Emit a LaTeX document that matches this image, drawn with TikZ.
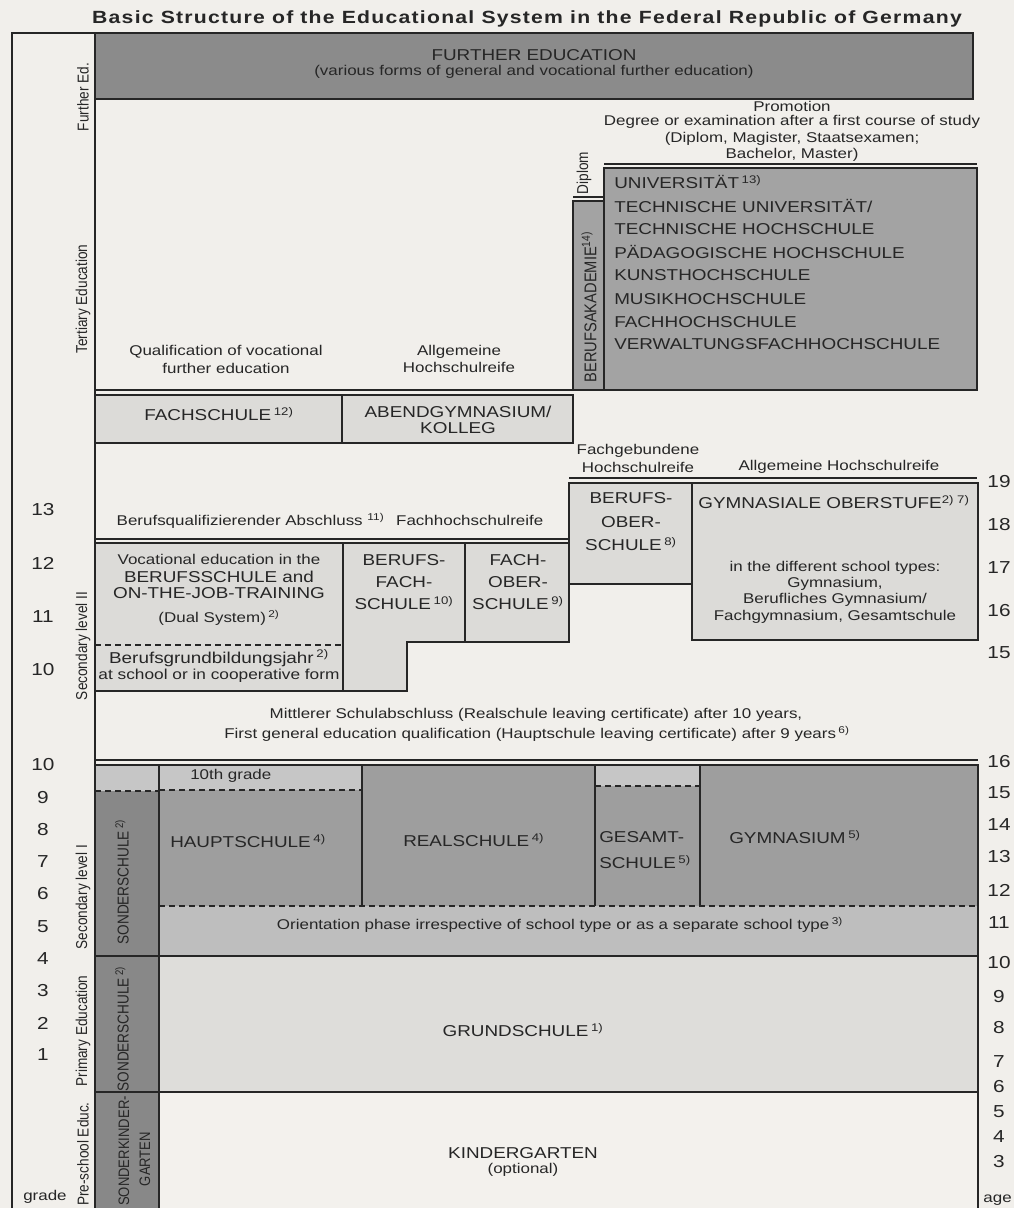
\documentclass[tikz,border=0pt]{standalone}
\usepackage{fontspec}
\usepackage{graphicx}
\setmainfont[FakeStretch=1.2]{Liberation Sans}
\newfontfamily\rotfont{Liberation Sans}
\newfontfamily\titlefont[FakeStretch=1.2,LetterSpace=7]{Liberation Sans}
\newcommand{\rtx}[1]{\scalebox{1}[1.16]{#1}}
\definecolor{bgc}{HTML}{F1EFEB}
\definecolor{inkc}{HTML}{262626}
\definecolor{furc}{HTML}{8B8B8B}
\definecolor{univc}{HTML}{A3A3A3}
\definecolor{lightc}{HTML}{DCDBD8}
\definecolor{schoolc}{HTML}{9E9E9E}
\definecolor{sonderc}{HTML}{888888}
\definecolor{bandc}{HTML}{C6C6C6}
\definecolor{orientc}{HTML}{BEBEBE}
\definecolor{grundc}{HTML}{DEDDDA}
\definecolor{kindc}{HTML}{F3F1ED}
\tikzset{
  ln/.style={line width=1.2pt, draw=inkc},
  thinln/.style={line width=1pt, draw=inkc},
  dsh/.style={line width=1.1pt, draw=inkc, dash pattern=on 4.5pt off 3pt},
  tx/.style={inner sep=0pt, text=inkc},
  big/.style={tx, font=\fontsize{11.8}{14}\selectfont},
  sml/.style={tx, font=\fontsize{10.6}{12.5}\selectfont},
  num/.style={tx, font=\fontsize{13}{15}\selectfont},
  rot/.style={tx, rotate=90, font=\rotfont\fontsize{10.2}{15}\selectfont},
}
\begin{document}
\begin{tikzpicture}[x=0.75pt,y=-0.75pt]
\useasboundingbox (0,0) rectangle (1014,1208);
\fill[bgc] (0,0) rectangle (1014,1208);

% ---------- title ----------
\node[tx, font=\titlefont\bfseries\fontsize{13.25}{15}\selectfont] (title) at (527,18.5)
  {Basic Structure of the Educational System in the Federal Republic of Germany};

% ---------- frame ----------
\draw[ln] (12,1215) -- (12,33) -- (95,33);
\draw[ln] (95,33) -- (95,1215);

% ---------- further education ----------
\filldraw[ln, fill=furc] (95,33) rectangle (973,99);
\node[big] (fe1) at (534,55) {FURTHER EDUCATION};
\node[sml] (fe2) at (534,72) {(various forms of general and vocational further education)};

% ---------- tertiary ----------
\node[sml] (pr1) at (792,106) {Promotion};
\node[sml] (pr2) at (792,122) {Degree or examination after a first course of study};
\node[sml] (pr3) at (792,139) {(Diplom, Magister, Staatsexamen;};
\node[sml] (pr4) at (792,155) {Bachelor, Master)};

\draw[thinln] (604,164) -- (977,164);
\filldraw[ln, fill=univc] (604,168) rectangle (977,390);
\draw[thinln] (573,197) -- (604,197);
\filldraw[ln, fill=univc] (573,201) rectangle (604,390);

\node[big, anchor=west] (u1) at (614,182) {UNIVERSITÄT\,\textsuperscript{13)}};
\node[big, anchor=west] (u2) at (614,206) {TECHNISCHE UNIVERSITÄT/};
\node[big, anchor=west] (u3) at (614,229) {TECHNISCHE HOCHSCHULE};
\node[big, anchor=west] (u4) at (614,252) {PÄDAGOGISCHE HOCHSCHULE};
\node[big, anchor=west] (u5) at (614,275) {KUNSTHOCHSCHULE};
\node[big, anchor=west] (u6) at (614,299) {MUSIKHOCHSCHULE};
\node[big, anchor=west] (u7) at (614,322) {FACHHOCHSCHULE};
\node[big, anchor=west] (u8) at (614,344) {VERWALTUNGSFACHHOCHSCHULE};

\node[rot] (dipl) at (584,173) {\rtx{Diplom}};
\node[rot, font=\rotfont\fontsize{11}{13}\selectfont] (ba) at (589,307) {\rtx{BERUFSAKADEMIE\textsuperscript{14)}}};

\node[sml] (q1) at (226,352) {Qualification of vocational};
\node[sml] (q2) at (226,368) {further education};
\node[sml] (ah1) at (459,352) {Allgemeine};
\node[sml] (ah2) at (459,367) {Hochschulreife};

\draw[thinln] (95,390) -- (977,390);
\filldraw[ln, fill=lightc] (95,395) rectangle (342,443);
\filldraw[ln, fill=lightc] (342,395) rectangle (573,443);
\node[big] (fs) at (219,414) {FACHSCHULE\,\textsuperscript{12)}};
\node[big] (ag1) at (458,412) {ABENDGYMNASIUM/};
\node[big] (ag2) at (458,428) {KOLLEG};

% ---------- secondary level II ----------
\node[sml] (fg1) at (638,451) {Fachgebundene};
\node[sml] (fg2) at (638,467) {Hochschulreife};
\node[sml] (ahr) at (839,467) {Allgemeine Hochschulreife};

\draw[thinln] (569,478) -- (977,478);
\filldraw[ln, fill=lightc] (569,483) rectangle (692,584);
\filldraw[ln, fill=lightc] (692,483) rectangle (978,640);
\node[big] (bos1) at (631,498) {BERUFS-};
\node[big] (bos2) at (631,522) {OBER-};
\node[big] (bos3) at (631,544) {SCHULE\,\textsuperscript{8)}};
\node[big] (go) at (834,502) {GYMNASIALE OBERSTUFE\textsuperscript{2) 7)}};
\node[sml] (go1) at (835,568) {in the different school types:};
\node[sml] (go2) at (835,584) {Gymnasium,};
\node[sml] (go3) at (835,600) {Berufliches Gymnasium/};
\node[sml] (go4) at (835,617) {Fachgymnasium, Gesamtschule};

\node[sml] (bq) at (330,521) {Berufsqualifizierender Abschluss\,\,\textsuperscript{11)}\,\,\, Fachhochschulreife};

\draw[thinln] (95,539) -- (569,539);
\filldraw[ln, fill=lightc] (95,543) rectangle (343,691);
\draw[dsh] (95,645) -- (343,645);
\filldraw[ln, fill=lightc] (343,543) -- (465,543) -- (465,642) -- (407,642) -- (407,691) -- (343,691) -- cycle;
\filldraw[ln, fill=lightc] (465,543) rectangle (569,642);

\node[sml] (v1) at (219,559) {Vocational education in the};
\node[big] (v2) at (219,577) {BERUFSSCHULE and};
\node[big] (v3) at (219,593) {ON-THE-JOB-TRAINING};
\node[sml] (v4) at (219,618) {(Dual System)\,\textsuperscript{2)}};
\node[big] (v5) at (219,658) {Berufsgrundbildungsjahr\,\textsuperscript{2)}};
\node[tx, font=\fontsize{10.8}{13}\selectfont] (v6) at (219,676) {at school or in cooperative form};

\node[big] (bf1) at (404,560) {BERUFS-};
\node[big] (bf2) at (404,582) {FACH-};
\node[big] (bf3) at (404,603) {SCHULE\,\textsuperscript{10)}};
\node[big] (fo1) at (518,560) {FACH-};
\node[big] (fo2) at (518,582) {OBER-};
\node[big] (fo3) at (518,603) {SCHULE\,\textsuperscript{9)}};

\node[sml] (ms1) at (536,715) {Mittlerer Schulabschluss (Realschule leaving certificate) after 10 years,};
\node[sml] (ms2) at (537,734) {First general education qualification (Hauptschule leaving certificate) after 9 years\,\textsuperscript{6)}};

% ---------- secondary level I, primary, pre-school ----------
\draw[thinln] (95,760) -- (978,760);
\fill[bandc] (95,765) rectangle (159,791);
\fill[sonderc] (95,791) rectangle (159,1215);
\fill[bandc] (159,765) rectangle (362,790);
\fill[schoolc] (159,790) rectangle (362,906);
\fill[schoolc] (362,765) rectangle (595,906);
\fill[bandc] (595,765) rectangle (700,786);
\fill[schoolc] (595,786) rectangle (700,906);
\fill[schoolc] (700,765) rectangle (978,906);
\fill[orientc] (159,906) rectangle (978,956);
\fill[grundc] (159,956) rectangle (978,1092);
\fill[kindc] (159,1092) rectangle (978,1215);

\draw[ln] (95,1215) -- (95,765) -- (978,765) -- (978,1215);
\draw[ln] (159,765) -- (159,1215);
\draw[ln] (362,765) -- (362,906);
\draw[ln] (595,765) -- (595,906);
\draw[ln] (700,765) -- (700,906);
\draw[ln] (95,956) -- (978,956);
\draw[ln] (95,1092) -- (978,1092);
\draw[dsh, line width=1.5pt] (95,791) -- (159,791);
\draw[dsh] (159,790) -- (362,790);
\draw[dsh] (595,786) -- (700,786);
\draw[dsh] (159,906) -- (978,906);

\node[sml, anchor=west] (tg) at (190,776) {10th grade};
\node[big, anchor=west] (hs) at (170,841) {HAUPTSCHULE\,\textsuperscript{4)}};
\node[big, anchor=west] (rs) at (403,840) {REALSCHULE\,\textsuperscript{4)}};
\node[big, anchor=west] (gs1) at (599,837) {GESAMT-};
\node[big, anchor=west] (gs2) at (599,862) {SCHULE\,\textsuperscript{5)}};
\node[big, anchor=west] (gy) at (729,837) {GYMNASIUM\,\textsuperscript{5)}};
\node[sml] (or) at (560,925) {Orientation phase irrespective of school type or as a separate school type\,\textsuperscript{3)}};
\node[big] (gr) at (523,1030) {GRUNDSCHULE\,\textsuperscript{1)}};
\node[big] (kg1) at (523,1153) {KINDERGARTEN};
\node[sml] (kg2) at (523,1170) {(optional)};

\node[rot] (so1) at (122,882) {\rtx{SONDERSCHULE\,\textsuperscript{2)}}};
\node[rot] (so2) at (122,1029) {\rtx{SONDERSCHULE\,\textsuperscript{2)}}};
\node[rot, font=\rotfont\fontsize{9.8}{15}\selectfont] (so3) at (124,1151) {\rtx{SONDERKINDER-}};
\node[rot, font=\rotfont\fontsize{9.8}{15}\selectfont] (so4) at (145,1159) {\rtx{GARTEN}};

% ---------- left labels ----------
\node[rot] (l1) at (83,97) {\rtx{Further Ed.}};
\node[rot] (l2) at (83,299) {\rtx{Tertiary Education}};
\node[rot] (l3) at (83,646) {\rtx{Secondary level II}};
\node[rot] (l4) at (83,897) {\rtx{Secondary level I}};
\node[rot] (l5) at (83,1031) {\rtx{Primary Education}};
\node[rot] (l6) at (83,1154) {\rtx{Pre-school Educ.}};

% ---------- grades ----------
\node[num] (g13) at (43,510) {13};
\node[num] (g12) at (43,563) {12};
\node[num] (g11) at (43,617) {11};
\node[num] (g10a) at (43,670) {10};
\node[num] (g10) at (43,765) {10};
\node[num] (g9) at (43,798) {9};
\node[num] (g8) at (43,830) {8};
\node[num] (g7) at (43,862) {7};
\node[num] (g6) at (43,894) {6};
\node[num] (g5) at (43,927) {5};
\node[num] (g4) at (43,959) {4};
\node[num] (g3) at (43,991) {3};
\node[num] (g2) at (43,1023) {2};
\node[num] (g1) at (43,1055) {1};
\node[sml] (grade) at (45,1197) {grade};

% ---------- ages ----------
\node[num] (a19) at (999,482) {19};
\node[num] (a18) at (999,525) {18};
\node[num] (a17) at (999,568) {17};
\node[num] (a16a) at (999,611) {16};
\node[num] (a15a) at (999,653) {15};
\node[num] (a16) at (999,762) {16};
\node[num] (a15) at (999,793) {15};
\node[num] (a14) at (999,825) {14};
\node[num] (a13) at (999,857) {13};
\node[num] (a12) at (999,890) {12};
\node[num] (a11) at (999,923) {11};
\node[num] (a10) at (999,963) {10};
\node[num] (a9) at (999,997) {9};
\node[num] (a8) at (999,1028) {8};
\node[num] (a7) at (999,1062) {7};
\node[num] (a6) at (999,1087) {6};
\node[num] (a5) at (999,1112) {5};
\node[num] (a4) at (999,1137) {4};
\node[num] (a3) at (999,1162) {3};
\node[sml, anchor=east] (age) at (1012,1200) {age};
\end{tikzpicture}
\end{document}
